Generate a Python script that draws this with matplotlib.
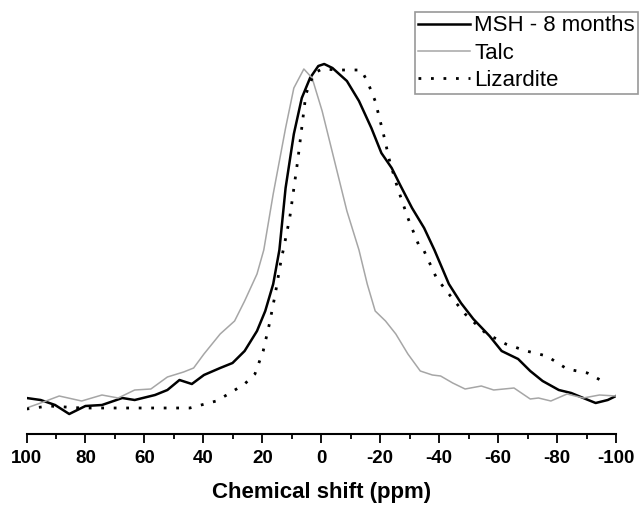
import numpy as np
import matplotlib.pyplot as plt

# chemical shift (ppm) and intensity (a.u.)
msh_ppm = [100, 95.2, 90.3, 85.5, 80, 74.4, 67.5, 63.3, 56.4, 52.2, 48.1, 43.9, 39.8, 34.3,
           30.1, 26, 21.8, 19, 16.3, 14.2, 12.1, 9.3, 6.6, 3.8, 1.0, -1.0, -3.8, -8.7,
           -12.8, -17, -20.4, -23.9, -26.6, -30.8, -34.9, -38.4, -43.3, -47.4, -51.6,
           -57.1, -61.2, -66.8, -70.9, -75.1, -80.6, -84.8, -88.9, -93.1, -97.2, -100]
msh_int = [36, 34, 29, 20, 28, 29, 36, 34, 39, 44, 54, 50, 59, 66,
           71, 83, 103, 123, 150, 184, 246, 300, 336, 356, 368, 370, 366, 353,
           333, 306, 281, 266, 250, 226, 206, 184, 150, 131, 115,
           98, 83, 75, 63, 53, 44, 41, 36, 31, 34, 38]

talc_ppm = [100, 95.2, 88.9, 81.3, 74.4, 68.9, 63.3, 57.8, 52.2, 46.7, 43.3, 39.8, 34.3,
            29.4, 26, 21.8, 19.5, 16.3, 12.1, 9.3, 5.9, 3.1, -0.3, -4.5, -8.7, -12.8,
            -15.6, -18.3, -21.8, -25.3, -29.4, -33.6, -37.7, -40.5, -44.6, -48.8,
            -54.3, -58.5, -65.4, -70.9, -73.7, -77.9, -83.4, -88.9, -94.4, -100]
talc_int = [26, 31, 38, 33, 39, 36, 44, 45, 57, 62, 66, 80, 100,
            113, 133, 160, 184, 240, 306, 346, 365, 356, 323, 273, 223, 184,
            150, 123, 113, 100, 80, 63, 59, 58, 51, 45,
            48, 44, 46, 35, 36, 33, 40, 36, 39, 38]

liz_ppm = [100, 92.4, 81.3, 67.5, 53.6, 44.6, 35.6, 31.5, 26, 22.5, 19.7, 17.6, 15.6,
           13.5, 12.8, 10.7, 8, 5.2, 2.4, -0.3, -5.9, -13.5, -15.6, -18.3, -21.1,
           -23.2, -25.9, -29.4, -33.6, -34.9, -39.1, -43.3, -48.8, -55.7, -62.6,
           -69.6, -76.5, -83.4, -90.3, -97.2]
liz_int = [25, 28, 26, 26, 26, 26, 33, 40, 50, 60, 83, 110, 140,
           176, 185, 216, 273, 340, 361, 365, 364, 364, 353, 333, 300,
           273, 246, 216, 185, 183, 156, 140, 120, 101, 90,
           83, 78, 65, 61, 50]

xticks = [100, 80, 60, 40, 20, 0, -20, -40, -60, -80, -100]

plt.rcParams['font.family'] = ['Liberation Sans', 'DejaVu Sans']

fig = plt.figure(figsize=(6.4, 5.08), dpi=100)
W, H = 640, 508
ax = fig.add_axes([26.5 / W, 74 / H, (616 - 26.5) / W, (498 - 74) / H])

ax.plot(msh_ppm, msh_int, color='black', lw=1.8, label='MSH - 8 months')
ax.plot(talc_ppm, talc_int, color='#a6a6a6', lw=1.1, label='Talc')
ax.plot(liz_ppm, liz_int, color='black', lw=2, linestyle=(0, (1, 3.5)), label='Lizardite')

ax.set_xlim(100, -100)
ax.set_ylim(0, 424)
ax.set_xticks(xticks)
ax.set_xticks(np.arange(-90, 100, 20), minor=True)
ax.set_xticklabels([str(t) for t in xticks], fontsize=13.5, fontweight='bold')
ax.set_yticks([])
for s in ['left', 'right', 'top']:
    ax.spines[s].set_visible(False)
ax.spines['bottom'].set_linewidth(1.5)
ax.tick_params(axis='x', which='major', length=6.5, width=1.3, pad=5)
ax.tick_params(axis='x', which='minor', length=3.6, width=1.3)
ax.set_xlabel('Chemical shift (ppm)', fontsize=16, fontweight='bold', labelpad=11)

leg = ax.legend(loc='upper right', bbox_to_anchor=(638 / W, 1 - 12 / H),
                bbox_transform=fig.transFigure, borderaxespad=0, fontsize=16,
                frameon=True, fancybox=False, handlelength=2.3, handletextpad=0.2,
                labelspacing=0.28, borderpad=0.15)
leg.get_frame().set_edgecolor('#7f7f7f')
leg.get_frame().set_linewidth(1.2)

fig.savefig('out.png', dpi=100)
